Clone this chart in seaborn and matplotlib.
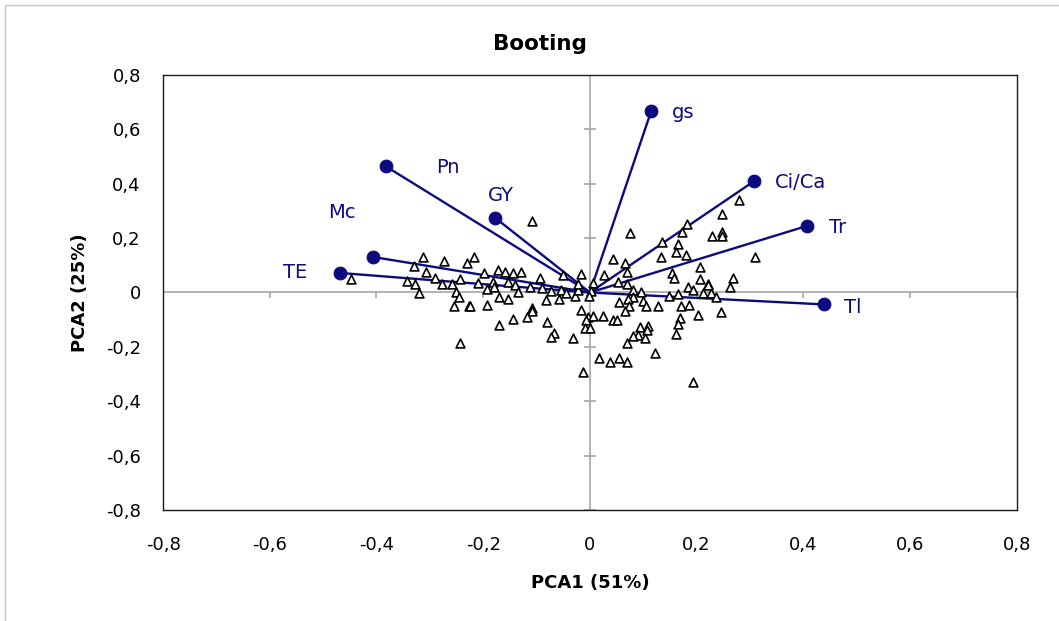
import matplotlib
matplotlib.use("Agg")
import numpy as np
import pandas as pd
import matplotlib.pyplot as plt
import seaborn as sns
from matplotlib.patches import Rectangle
from matplotlib.ticker import FuncFormatter

# loadings (variables)
var_names = ["gs", "Ci/Ca", "Tr", "Tl", "Pn", "GY", "Mc", "TE"]
load_pc1 = [0.115, 0.308, 0.407, 0.439, -0.383, -0.177, -0.407, -0.469]
load_pc2 = [0.668, 0.410, 0.245, -0.044, 0.465, 0.274, 0.131, 0.072]

# scores (genotypes)
score_pc1 = [
    -0.448, -0.313, -0.274, -0.231, -0.330, -0.308, -0.291, -0.342, -0.327, -0.278,
    -0.259, -0.244, -0.250, -0.321, -0.246, -0.255, -0.227, -0.244, -0.108, -0.218,
    -0.173, -0.160, -0.145, -0.130, -0.199, -0.209, -0.181, -0.153, -0.192, -0.179,
    -0.141, -0.134, -0.113, -0.094, -0.089, -0.072, -0.055, -0.051, -0.044, -0.027,
    -0.022, -0.016, -0.022, 0.005, 0.003, -0.001, -0.224, -0.192, -0.171, -0.153,
    -0.083, -0.057, -0.108, -0.109, -0.117, -0.145, -0.080, -0.171, -0.068, -0.072,
    -0.031, -0.016, -0.003, 0.005, -0.007, -0.010, 0.001, 0.076, 0.182, 0.173,
    0.229, 0.136, 0.166, 0.162, 0.181, 0.134, 0.044, 0.065, 0.070, 0.027,
    0.207, 0.154, 0.158, 0.207, 0.053, 0.070, 0.184, 0.222, 0.194, 0.080,
    0.096, 0.149, 0.166, 0.212, 0.227, 0.237, 0.081, 0.055, 0.072, 0.074,
    0.100, 0.106, 0.128, 0.171, 0.186, 0.065, 0.203, 0.169, 0.166, 0.162,
    0.025, 0.044, 0.051, 0.094, 0.109, 0.108, 0.091, 0.081, 0.104, 0.070,
    0.280, 0.248, 0.248, 0.248, 0.310, 0.222, 0.269, 0.263, 0.246, 0.194,
    0.123, 0.018, 0.038, 0.055, 0.070, -0.012,
]
score_pc2 = [
    0.050, 0.131, 0.116, 0.108, 0.097, 0.075, 0.053, 0.042, 0.031, 0.031,
    0.031, 0.050, 0.002, -0.002, -0.017, -0.050, -0.050, -0.186, 0.263, 0.131,
    0.083, 0.075, 0.072, 0.075, 0.072, 0.035, 0.039, 0.039, 0.013, 0.020,
    0.028, 0.002, 0.020, 0.053, 0.017, 0.006, 0.009, 0.064, -0.002, -0.013,
    0.009, 0.068, 0.031, 0.035, 0.006, -0.013, -0.050, -0.046, -0.017, -0.024,
    -0.028, -0.024, -0.057, -0.068, -0.090, -0.097, -0.108, -0.120, -0.149, -0.164,
    -0.167, -0.064, -0.090, -0.086, -0.101, -0.131, -0.131, 0.219, 0.252, 0.223,
    0.208, 0.186, 0.178, 0.149, 0.138, 0.131, 0.123, 0.108, 0.075, 0.064,
    0.094, 0.072, 0.053, 0.050, 0.039, 0.031, 0.020, 0.031, 0.009, 0.009,
    0.002, -0.013, -0.006, -0.002, -0.002, -0.017, -0.017, -0.035, -0.024, -0.050,
    -0.031, -0.050, -0.050, -0.050, -0.046, -0.068, -0.083, -0.094, -0.116, -0.153,
    -0.086, -0.101, -0.101, -0.127, -0.123, -0.138, -0.156, -0.160, -0.167, -0.186,
    0.340, 0.289, 0.223, 0.208, 0.131, 0.028, 0.053, 0.020, -0.072, -0.329,
    -0.223, -0.241, -0.256, -0.241, -0.256, -0.292,
]

tick_vals = [-0.8, -0.6, -0.4, -0.2, 0, 0.2, 0.4, 0.6, 0.8]

# label offsets in points
label_offsets = {
    "gs": (23, -1), "Ci/Ca": (33, -1), "Tr": (22, -1), "Tl": (21, -2),
    "Pn": (45, -1), "GY": (4, 16), "Mc": (-22, 32), "TE": (-32, 0),
}

sns.set_style("white")
plt.rcParams["font.family"] = ["DejaVu Sans"]
plt.rcParams["text.color"] = "black"
plt.rcParams["axes.labelcolor"] = "black"
plt.rcParams["xtick.color"] = "black"
plt.rcParams["ytick.color"] = "black"

navy = "#0b0b7f"
grey = "#a6a6a6"

scores = pd.DataFrame({"PC1": score_pc1, "PC2": score_pc2})
loads = pd.DataFrame({"PC1": load_pc1, "PC2": load_pc2, "var": var_names})

fig = plt.figure(figsize=(10.59, 6.21), dpi=100)
ax = fig.add_axes([0.154, 0.179, 0.806, 0.700])

ax.axhline(0, color=grey, lw=1.2, zorder=1)
ax.axvline(0, color=grey, lw=1.2, zorder=1)
ax.plot(tick_vals, [0] * len(tick_vals), ls="none", marker=3, ms=4.5,
        mew=1.2, color=grey, zorder=1)
ax.plot([0] * len(tick_vals), tick_vals, ls="none", marker="_", ms=9,
        mew=1.2, color=grey, zorder=1)

for _, r in loads.iterrows():
    ax.plot([0, r.PC1], [0, r.PC2], color=navy, lw=1.7, zorder=2)

sns.scatterplot(data=scores, x="PC1", y="PC2", marker="^", s=40,
                facecolor="white", edgecolor="black", linewidth=1.2,
                ax=ax, zorder=3)
sns.scatterplot(data=loads, x="PC1", y="PC2", marker="o", s=85,
                color=navy, edgecolor=navy, ax=ax, zorder=4)

for _, r in loads.iterrows():
    ax.annotate(r["var"], (r.PC1, r.PC2), xytext=label_offsets[r["var"]],
                textcoords="offset points", ha="center", va="center",
                fontsize=14, color=navy)

ax.set_xlim(-0.8, 0.8)
ax.set_ylim(-0.8, 0.8)
ax.set_xticks(tick_vals)
ax.set_yticks(tick_vals)
fmt = FuncFormatter(lambda v, p: "0" if abs(v) < 1e-9 else f"{v:.1f}".replace(".", ","))
ax.xaxis.set_major_formatter(fmt)
ax.yaxis.set_major_formatter(fmt)
ax.tick_params(axis="x", length=0, pad=19, labelsize=13)
ax.tick_params(axis="y", length=0, pad=16, labelsize=13)
for s in ax.spines.values():
    s.set_color("#1a1a1a")
    s.set_linewidth(1.0)

ax.set_xlabel("PCA1 (51%)", fontsize=13, fontweight="bold", labelpad=14)
ax.set_ylabel("PCA2 (25%)", fontsize=13, fontweight="bold", labelpad=12)
fig.text(540 / 1059, 1 - 44 / 621, "Booting", ha="center", va="center",
         fontsize=15.5, fontweight="bold")

fig.patches.append(Rectangle((5 / 1059, -0.05), 1.2, 0.992 + 0.05, fill=False,
                             edgecolor="#c8c8c8", lw=1, transform=fig.transFigure))

fig.savefig("out.png", dpi=100)
